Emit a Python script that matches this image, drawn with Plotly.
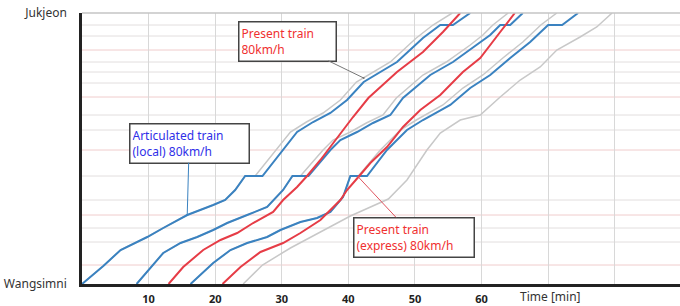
import plotly.graph_objects as go

# ---------------- data (time in min, distance in km from Wangsimni) ----------------
stations_km = [1.9, 4.2, 5.6, 6.9, 8.4, 10.8, 13.4, 15.4, 16.9, 18.7, 20.1, 21.2, 22.2, 23.4, 24.8, 25.9]
end_km = 27.1
y_tick_vals = [0, 27.1]
y_tick_text = ["Wangsimni", "Jukjeon"]
x_tick_vals = [10, 20, 30, 40, 50, 60, 70, 80]
x_tick_text = ["10", "20", "30", "40", "50", "60", "", ""]

# Articulated train (local) 80 km/h  -- blue
b1_t = [0, 3.2, 5.8, 9.8, 12.2, 15.8, 19.7, 21.5, 23.0, 24.5, 27.1, 30.2, 32.3, 34.7, 37.3, 39.8, 42.3, 47.3, 51.2, 53.8, 55.7, 58.3]
b1_d = [0, 1.8, 3.4, 4.7, 5.6, 6.9, 7.9, 8.4, 9.4, 10.8, 10.8, 13.4, 15.2, 16.2, 17.1, 18.4, 20.2, 22.2, 24.6, 25.9, 25.9, 27.1]
b2_t = [8.2, 12.2, 14.8, 17.3, 19.7, 21.8, 24.8, 27.8, 30.2, 31.6, 34.0, 37.3, 38.8, 41.3, 43.7, 46.3, 48.2, 52.3, 55.7, 59.3, 61.3, 62.8, 64.3, 66.2]
b2_d = [0, 3.1, 4.1, 4.7, 5.4, 6.1, 6.9, 7.7, 9.4, 10.8, 10.8, 13.4, 14.4, 15.2, 16.1, 16.9, 18.6, 20.9, 22.2, 23.9, 24.9, 25.9, 25.9, 27.1]
b3_t = [16.3, 19.7, 22.3, 24.8, 27.8, 29.8, 32.8, 35.3, 37.3, 39.2, 40.3, 42.8, 45.8, 48.8, 51.2, 55.3, 58.3, 61.3, 64.3, 67.3, 70.0, 72.1, 74.5]
b3_d = [0, 2.1, 3.4, 4.1, 4.7, 5.4, 6.2, 6.6, 7.2, 8.7, 10.8, 10.8, 13.4, 15.4, 16.4, 17.9, 19.6, 20.9, 22.6, 24.2, 25.9, 25.9, 27.1]

# Present train (express) 80 km/h -- red
r1_t = [13.0, 15.2, 18.2, 20.8, 23.3, 25.7, 28.7, 30.2, 32.3, 33.8, 35.8, 37.7, 39.2, 40.7, 43.0, 47.3, 51.2, 54.2, 56.8]
r1_d = [0, 1.7, 3.4, 4.4, 5.1, 6.1, 7.2, 8.4, 9.7, 10.8, 12.4, 14.1, 15.4, 16.7, 18.6, 21.2, 23.2, 25.2, 27.1]
r2_t = [21.1, 23.8, 26.8, 30.2, 32.8, 35.8, 38.8, 39.8, 41.5, 43.3, 45.8, 48.2, 50.8, 53.8, 57.2, 59.8, 62.8, 65.0]
r2_d = [0, 1.7, 3.2, 4.1, 5.1, 6.4, 8.4, 9.4, 10.7, 12.1, 13.7, 15.7, 17.4, 18.9, 21.2, 22.6, 25.2, 27.1]

# Present train (local) 80 km/h -- gray
g1_t = [0, 3.2, 5.8, 9.8, 12.2, 15.8, 19.7, 21.5, 23.0, 24.5, 26.0, 29.2, 31.3, 33.7, 36.2, 38.8, 41.2, 46.3, 50.2, 52.7, 55.6]
g1_d = [0, 1.8, 3.4, 4.7, 5.6, 6.9, 7.9, 8.4, 9.4, 10.8, 10.8, 13.4, 15.2, 16.2, 17.1, 18.4, 20.2, 22.2, 24.6, 25.9, 27.1]
g2_t = [8.2, 12.2, 14.8, 17.3, 19.7, 21.8, 24.8, 27.8, 30.2, 31.6, 32.8, 36.2, 37.7, 40.3, 42.7, 45.2, 47.2, 51.2, 54.7, 58.3, 60.2, 61.7, 64.0]
g2_d = [0, 3.1, 4.1, 4.7, 5.4, 6.1, 6.9, 7.7, 9.4, 10.8, 10.8, 13.4, 14.4, 15.2, 16.1, 16.9, 18.6, 20.9, 22.2, 23.9, 24.9, 25.9, 27.1]
g3_t = [16.3, 19.7, 22.3, 24.8, 27.8, 29.8, 32.8, 35.3, 37.3, 39.2, 40.3, 41.5, 44.8, 47.8, 50.2, 54.2, 57.2, 60.2, 63.2, 66.2, 68.9, 71.3]
g3_d = [0, 2.1, 3.4, 4.1, 4.7, 5.4, 6.2, 6.6, 7.2, 8.7, 10.8, 10.8, 13.4, 15.4, 16.4, 17.9, 19.6, 20.9, 22.6, 24.2, 25.9, 27.1]
g4_t = [24.2, 27.1, 31.3, 35.8, 40.3, 46.0, 48.8, 51.8, 53.8, 56.8, 59.8, 62.8, 65.8, 68.8, 71.3, 74.8, 77.3, 79.6]
g4_d = [0, 1.9, 3.6, 5.2, 6.8, 8.5, 10.4, 13.4, 15.1, 16.4, 16.9, 18.7, 20.4, 21.7, 23.4, 24.7, 25.7, 27.1]

# annotation targets (points on the lines)
ann_local_pt = (15.8, 6.9)
ann_present_pt = (42.3, 20.6)
ann_express_pt = (41.5, 10.7)

# ---------------- figure ----------------
BLUE = "#3a82c0"
RED = "#e63c46"
GRAY = "#c8c8c8"

fig = go.Figure()
for t, d in [(g1_t, g1_d), (g2_t, g2_d), (g3_t, g3_d), (g4_t, g4_d)]:
    fig.add_trace(go.Scatter(x=t, y=d, mode="lines", line=dict(color=GRAY, width=1.5), hoverinfo="skip"))
for t, d in [(b1_t, b1_d), (b2_t, b2_d), (b3_t, b3_d)]:
    fig.add_trace(go.Scatter(x=t, y=d, mode="lines", line=dict(color=BLUE, width=2), hoverinfo="skip"))
for t, d in [(r1_t, r1_d), (r2_t, r2_d)]:
    fig.add_trace(go.Scatter(x=t, y=d, mode="lines", line=dict(color=RED, width=2), hoverinfo="skip"))

shapes = []
pink_idx = {0, 3, 6, 9, 13}
for i, s in enumerate(stations_km):
    shapes.append(dict(type="line", xref="paper", x0=0, x1=1, yref="y", y0=s, y1=s,
                       line=dict(color="#f0cccc" if i in pink_idx else "#e2dede", width=1), layer="below"))
shapes.append(dict(type="line", xref="paper", x0=0, x1=1, yref="paper", y0=1, y1=1,
                   line=dict(color="#c4c4c4", width=1.5)))

FONT = "Noto Sans"
annotations = [
    dict(x=ann_local_pt[0], y=ann_local_pt[1], xref="x", yref="y", ax=2, ay=-72,
         text="Articulated train<br>(local) 80km/h", align="left", width=114, height=34,
         font=dict(family=FONT, size=12, color="#3030e8"), bgcolor="white",
         bordercolor="#444444", borderwidth=1.5, borderpad=2,
         showarrow=True, arrowhead=6, arrowsize=0.5, arrowwidth=1, arrowcolor=BLUE),
    dict(x=ann_present_pt[0], y=ann_present_pt[1], xref="x", yref="y", ax=-76, ay=-37,
         text="Present train<br>80km/h", align="left", width=92, height=34,
         font=dict(family=FONT, size=12, color="#f03030"), bgcolor="white",
         bordercolor="#444444", borderwidth=1.5, borderpad=2,
         showarrow=True, arrowhead=6, arrowsize=0.5, arrowwidth=1, arrowcolor="#777777"),
    dict(x=ann_express_pt[0], y=ann_express_pt[1], xref="x", yref="y", ax=56, ay=60,
         text="Present train<br>(express) 80km/h", align="left", width=115, height=34,
         font=dict(family=FONT, size=12, color="#f03030"), bgcolor="white",
         bordercolor="#444444", borderwidth=1.5, borderpad=2,
         showarrow=True, arrowhead=6, arrowsize=0.5, arrowwidth=1, arrowcolor="#e05560"),
    dict(x=0.784, y=-0.045, xref="paper", yref="paper", text="Time [min]", showarrow=False,
         xanchor="center", yanchor="middle", font=dict(family=FONT, size=12, color="#333333")),
]

fig.update_layout(
    width=680, height=306,
    margin=dict(l=82, r=0, t=13, b=22),
    paper_bgcolor="white", plot_bgcolor="white",
    showlegend=False,
    shapes=shapes,
    annotations=annotations,
    xaxis=dict(range=[0, 89.8], tickvals=x_tick_vals, ticktext=x_tick_text,
               showgrid=True, gridcolor="#d8d8d8", gridwidth=1, zeroline=False,
               showline=True, linecolor="#222222", linewidth=2.5,
               ticks="outside", ticklen=3, tickcolor="rgba(0,0,0,0)",
               tickfont=dict(family=FONT, size=11, color="#222222", weight="bold")),
    yaxis=dict(range=[0, end_km], tickvals=y_tick_vals, ticktext=y_tick_text,
               showgrid=False, zeroline=False,
               showline=True, linecolor="#222222", linewidth=2.5,
               ticks="outside", ticklen=10, tickcolor="rgba(0,0,0,0)",
               tickfont=dict(family=FONT, size=12, color="#333333")),
)

fig.write_html("out.html")
